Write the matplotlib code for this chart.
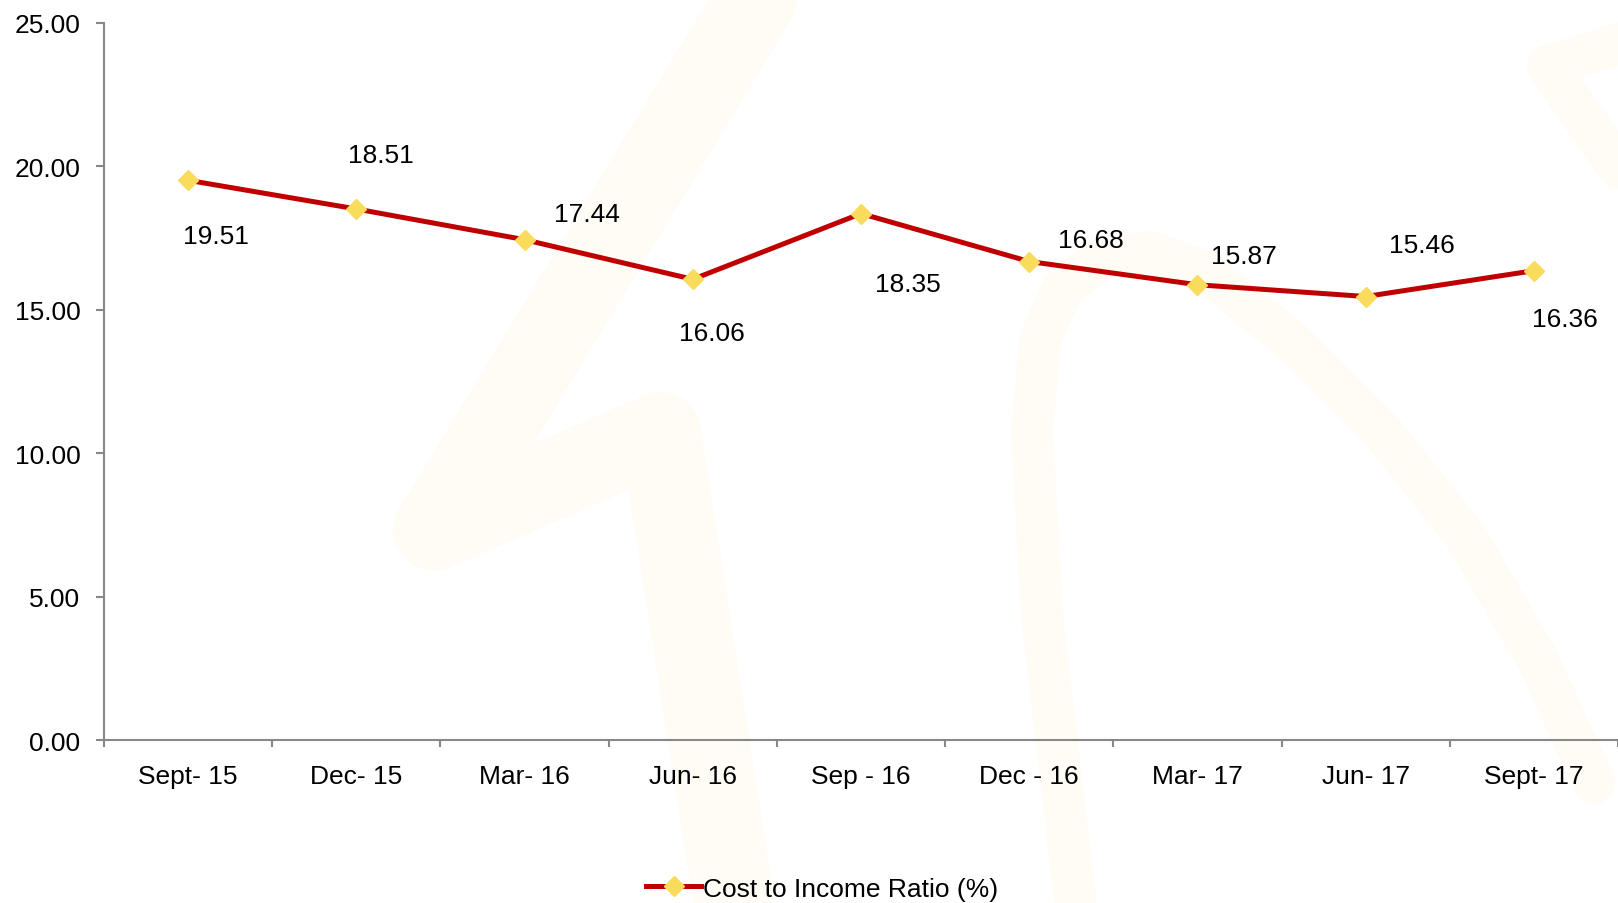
import matplotlib
matplotlib.use("Agg")
import matplotlib.pyplot as plt
from matplotlib.lines import Line2D
import numpy as np

# chart data
quarters = ["Sept- 15", "Dec- 15", "Mar- 16", "Jun- 16", "Sep - 16",
            "Dec - 16", "Mar- 17", "Jun- 17", "Sept- 17"]
cost_income = [19.51, 18.51, 17.44, 16.06, 18.35, 16.68, 15.87, 15.46, 16.36]
y_ticks = [0, 5, 10, 15, 20, 25]

# label offsets in pixels (dx, dy) for each point
label_offsets = [(28, -56), (25, 54), (62, 26), (19, -54), (47, -70),
                 (62, 22), (46, 29), (56, 52), (31, -48)]

plt.rcParams['font.family'] = ['Liberation Sans', 'DejaVu Sans']
FS = 19
LINE_RED = '#C00000'
MARK_YEL = '#F9DC5C'
AXIS_GREY = '#888888'
WM = '#FFFBF5'

fig = plt.figure(figsize=(16.18, 9.04), dpi=100)


# faint background watermark strokes (figure fractions, from a 1568x876 layout)
def wm_stroke(points, lw):
    pts = np.array(points, dtype=float)
    xs = pts[:, 0] / 1568
    ys = 1 - pts[:, 1] / 876
    fig.add_artist(Line2D(xs, ys, transform=fig.transFigure, color=WM, lw=lw,
                          solid_capstyle='round', solid_joinstyle='round', zorder=0))


wm_stroke([(745, -20), (420, 515), (640, 420), (715, 900)], 58)
wm_stroke([(1045, 900), (1010, 600), (1000, 420), (1008, 330), (1030, 280),
           (1070, 250), (1115, 245), (1170, 265), (1250, 330), (1340, 420),
           (1420, 520), (1490, 640), (1545, 760)], 30)
wm_stroke([(1580, 40), (1500, 65), (1580, 180)], 30)

ax = fig.add_axes([0.0643, 0.180, 0.9357, 0.7938])
ax.patch.set_alpha(0)

x = np.arange(len(quarters))
line, = ax.plot(x, cost_income, color=LINE_RED, lw=3.6, marker='D', markersize=10,
                markerfacecolor=MARK_YEL, markeredgecolor=MARK_YEL, zorder=3,
                label='Cost to Income Ratio (%)')

for xi, val, (dx, dy) in zip(x, cost_income, label_offsets):
    ax.annotate(f"{val:.2f}", (xi, val), xytext=(dx, dy), textcoords='offset pixels',
                ha='center', va='center', fontsize=FS, color='black')

ax.set_xlim(-0.5, len(quarters) - 0.5)
ax.set_ylim(0, 25)
ax.set_yticks(y_ticks)
ax.set_yticklabels([f"{v:.2f}" for v in y_ticks], fontsize=FS)

ax.set_xticks(x)
ax.set_xticklabels(quarters, fontsize=FS)
ax.set_xticks(np.arange(len(quarters) + 1) - 0.5, minor=True)
ax.tick_params(axis='x', which='major', length=0, pad=17)
ax.tick_params(axis='x', which='minor', length=5, width=1.5, color=AXIS_GREY, direction='out')
ax.tick_params(axis='y', length=6, width=1.5, color=AXIS_GREY, pad=11)

for side in ['top', 'right']:
    ax.spines[side].set_visible(False)
for side in ['left', 'bottom']:
    ax.spines[side].set_color(AXIS_GREY)
    ax.spines[side].set_linewidth(1.5)

fig.legend(handles=[line], loc='center', bbox_to_anchor=(0.508, 0.016),
           frameon=False, fontsize=FS, handlelength=2.1, handletextpad=0.05)

fig.savefig("out.png", dpi=100)
